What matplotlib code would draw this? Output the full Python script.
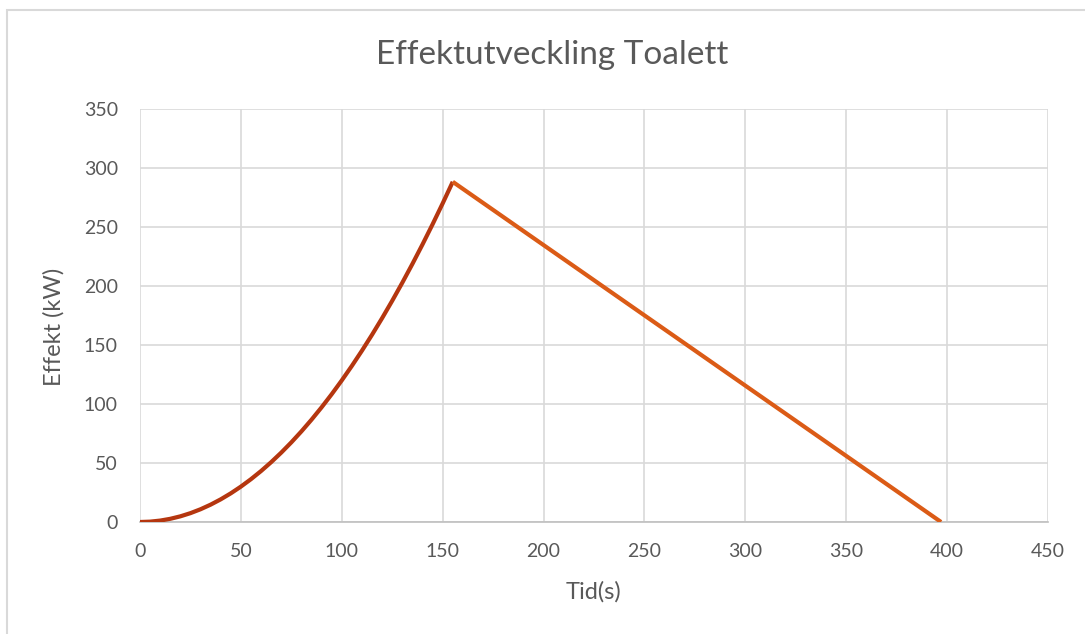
import matplotlib.pyplot as plt
from matplotlib.patches import Rectangle

# Tillväxtfas (t-kvadrat) och avklingning för toalettbranden
tid_tillvaxt = [0, 5, 10, 15, 20, 25, 30, 35, 40, 45, 50, 55, 60, 65, 70, 75, 80, 85,
                90, 95, 100, 105, 110, 115, 120, 125, 130, 135, 140, 145, 150, 155]
effekt_tillvaxt = [0, 0.3, 1.2, 2.7, 4.8, 7.5, 10.8, 14.7, 19.2, 24.3, 30, 36.3,
                   43.2, 50.7, 58.8, 67.5, 76.8, 86.7, 97.2, 108.3, 120, 132.3,
                   145.2, 158.7, 172.8, 187.5, 202.8, 218.7, 235.2, 252.3, 270, 288.3]

tid_avklingning = [155, 397]
effekt_avklingning = [288.3, 0]

x_ticks = [0, 50, 100, 150, 200, 250, 300, 350, 400, 450]
y_ticks = [0, 50, 100, 150, 200, 250, 300, 350]

plt.rcParams['font.family'] = ['Lato', 'DejaVu Sans']
text_color = '#595959'

fig = plt.figure(figsize=(10.85, 6.34), dpi=100)
fig.patches.append(Rectangle((7 / 1085, -0.05), 1.1, 1 - 10 / 634 + 0.05,
                             transform=fig.transFigure, fill=False,
                             edgecolor='#D9D9D9', linewidth=1.5))

ax = fig.add_axes([140 / 1085, 1 - 522 / 634, 908 / 1085, 413 / 634])

ax.plot(tid_tillvaxt, effekt_tillvaxt, color='#B5360F', linewidth=3,
        solid_capstyle='butt', solid_joinstyle='round', zorder=3)
ax.plot(tid_avklingning, effekt_avklingning, color='#DB5B16', linewidth=3,
        solid_capstyle='butt', zorder=3)

ax.set_xlim(0, 450)
ax.set_ylim(0, 350)
ax.set_xticks(x_ticks)
ax.set_yticks(y_ticks)
ax.grid(True, color='#D9D9D9', linewidth=1.2)
ax.set_axisbelow(True)
for side in ['top', 'right', 'left']:
    ax.spines[side].set_visible(False)
ax.spines['bottom'].set_color('#BFBFBF')
ax.spines['bottom'].set_linewidth(1.2)
ax.tick_params(length=0, labelsize=14, colors=text_color)
ax.tick_params(axis='y', pad=16)
ax.tick_params(axis='x', pad=15)

fig.text(593 / 1085, 1 - 592 / 634, 'Tid(s)', fontsize=17, color=text_color,
         ha='center', va='center')
fig.text(54 / 1085, 1 - 327 / 634, 'Effekt (kW)', fontsize=17, color=text_color,
         ha='center', va='center', rotation=90)
fig.text(552 / 1085, 1 - 55 / 634, 'Effektutveckling Toalett', fontsize=24,
         color=text_color, ha='center', va='center')

fig.savefig('out.png', dpi=100)
